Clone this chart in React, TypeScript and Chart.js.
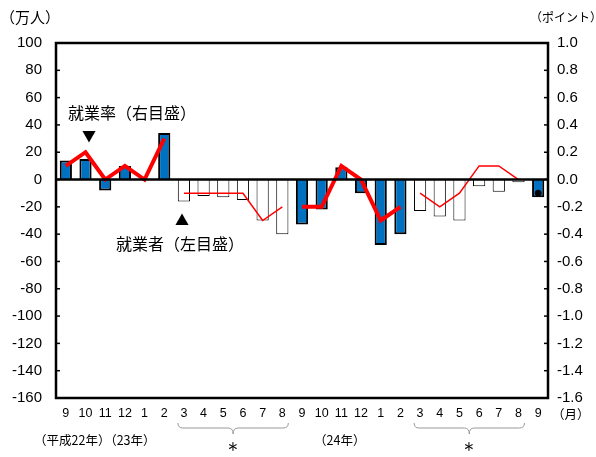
import React, { useEffect, useRef } from "react";
import { Chart, registerables } from "chart.js";
Chart.register(...registerables);

const months = ["9","10","11","12","1","2","3","4","5","6","7","8","9","10","11","12","1","2","3","4","5","6","7","8","9"];
const employed = [14,15,-8,10,0,34,-16,-12,-13,-15,-30,-40,-33,-22,9,-10,-48,-40,-23,-27,-30,-5,-9,-2,-13];
const filled = [1,1,1,1,1,1,0,0,0,0,0,0,1,1,1,1,1,1,0,0,0,0,0,0,1];
const rateA = [0.1,0.2,0,0.1,0,0.3,null,null,null,null,null,null,-0.2,-0.2,0.1,0,-0.3,-0.2,null,null,null,null,null,null,null];
const rateB = [null,null,null,null,null,null,-0.1,-0.1,-0.1,-0.1,-0.3,-0.2,null,null,null,null,null,null,-0.1,-0.2,-0.1,0.1,0.1,0.0,null];
const rateDot = [null,null,null,null,null,null,null,null,null,null,null,null,null,null,null,null,null,null,null,null,null,null,null,null,-0.1];
const leftTicks = [100,80,60,40,20,0,-20,-40,-60,-80,-100,-120,-140,-160];

const JP = "'Noto Sans CJK JP', sans-serif";
const NUM = "'Liberation Sans', Arial, sans-serif";

export default function App() {
  const ref = useRef<HTMLCanvasElement>(null);
  useEffect(() => {
    const deco = {
      id: "deco",
      afterDraw(c: any) {
        const ctx = c.ctx, a = c.chartArea, y = c.scales.y, x = c.scales.x;
        ctx.save();
        ctx.strokeStyle = "#000"; ctx.lineWidth = 2.5;
        ctx.beginPath(); ctx.moveTo(a.left, y.getPixelForValue(0)); ctx.lineTo(a.right, y.getPixelForValue(0)); ctx.stroke();
        ctx.strokeRect(a.left, a.top, a.right - a.left, a.bottom - a.top);
        ctx.lineWidth = 1.5;
        for (const v of leftTicks) {
          const p = y.getPixelForValue(v);
          ctx.beginPath(); ctx.moveTo(a.left, p); ctx.lineTo(a.left + 4, p); ctx.stroke();
          ctx.beginPath(); ctx.moveTo(a.right, p); ctx.lineTo(a.right - 4, p); ctx.stroke();
        }
        ctx.fillStyle = "#000";
        ctx.font = "15px " + JP; ctx.textBaseline = "middle";
        ctx.textAlign = "left";
        ctx.fillText("（万人）", 0, 17);
        ctx.font = "12px " + JP;
        ctx.fillText("（ポイント）", 530, 17);
        ctx.font = "16px " + JP;
        ctx.fillText("就業率（右目盛）", 68, 113);
        ctx.fillText("就業者（左目盛）", 116, 244);
        ctx.font = "14px " + JP; ctx.textAlign = "center";
        ctx.fillText("▼", 89, 136);
        ctx.fillText("▲", 182, 220);
        ctx.font = "12.5px " + JP; ctx.textAlign = "left";
        ctx.fillText("（月）", 552, 414);
        ctx.fillText("（平成22年）（23年）", 34, 440);
        ctx.fillText("（24年）", 314, 440);
        ctx.strokeStyle = "#999"; ctx.lineWidth = 1;
        const br = (i0: number, i1: number) => {
          const l = x.getPixelForValue(i0) - 6, r = x.getPixelForValue(i1) + 6, m = (l + r) / 2;
          ctx.beginPath();
          ctx.moveTo(l, 423); ctx.quadraticCurveTo(l, 428, l + 5, 428);
          ctx.lineTo(m - 5, 428); ctx.quadraticCurveTo(m, 428, m, 434);
          ctx.quadraticCurveTo(m, 428, m + 5, 428);
          ctx.lineTo(r - 5, 428); ctx.quadraticCurveTo(r, 428, r, 423);
          ctx.stroke();
          ctx.fillStyle = "#000"; ctx.font = "20px " + NUM; ctx.textAlign = "center";
          ctx.fillText("＊", m, 450);
        };
        br(6, 11); br(18, 23);
        ctx.restore();
      },
    };
    const chart = new Chart(ref.current!, {
      type: "bar",
      data: {
        labels: months,
        datasets: [
          { type: "line", data: rateA, yAxisID: "y2", borderColor: "#ff0000", borderWidth: 4, pointRadius: 0, spanGaps: false, order: 0 } as any,
          { type: "line", data: rateB, yAxisID: "y2", borderColor: "#ff0000", borderWidth: 1.5, pointRadius: 0, spanGaps: false, order: 0 } as any,
          { type: "line", data: rateDot, yAxisID: "y2", borderColor: "#000", backgroundColor: "#000", pointRadius: 3, showLine: false, order: 0 } as any,
          { type: "bar", data: employed, yAxisID: "y", backgroundColor: filled.map(f => f ? "#0070c0" : "#fff"), borderColor: "#000", borderWidth: filled.map(f => f ? 2 : 1) as any, barPercentage: 0.62, categoryPercentage: 1, order: 1 },
        ],
      },
      options: {
        animation: false, responsive: false, maintainAspectRatio: false,
        layout: { padding: { top: 43, left: 0, right: 0, bottom: 0 } },
        plugins: { legend: { display: false }, tooltip: { enabled: false } },
        scales: {
          x: {
            grid: { display: false, drawTicks: false }, border: { display: false },
            ticks: { color: "#000", font: { family: NUM, size: 12.5 }, padding: 8, maxRotation: 0, autoSkip: false },
            afterFit: (s: any) => { s.height = 59; },
          },
          y: {
            min: -160, max: 100, position: "left",
            grid: { display: false, drawTicks: false }, border: { display: false },
            ticks: { stepSize: 20, color: "#000", font: { family: NUM, size: 15 }, padding: 14 },
            afterFit: (s: any) => { s.width = 56; },
          },
          y2: {
            min: -1.6, max: 1.0, position: "right",
            grid: { display: false, drawTicks: false }, border: { display: false },
            ticks: { stepSize: 0.2, color: "#000", font: { family: NUM, size: 15 }, padding: 9, callback: (v: any) => Number(v).toFixed(1) },
            afterFit: (s: any) => { s.width = 48; },
          },
        },
      },
      plugins: [deco],
    });
    return () => chart.destroy();
  }, []);
  return (
    <div style={{ position: "fixed", left: 0, top: 0, width: 596, height: 457, background: "#fff" }}>
      <canvas ref={ref} width={596} height={457} style={{ width: 596, height: 457 }} />
    </div>
  );
}
